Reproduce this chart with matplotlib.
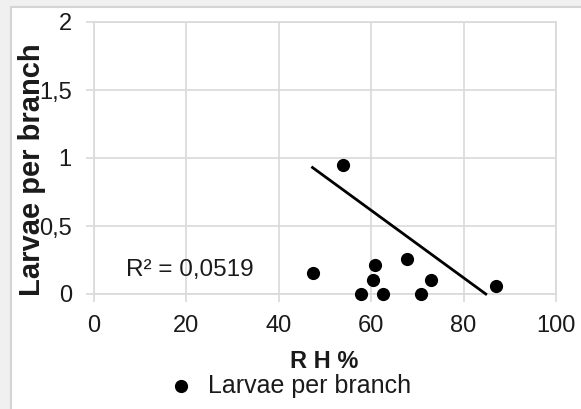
import matplotlib
matplotlib.use("Agg")
import matplotlib.pyplot as plt
from matplotlib.patches import Rectangle
from matplotlib.ticker import FuncFormatter

# relative humidity (%) and larvae per branch
rh = [47.3, 54.0, 57.8, 60.4, 60.9, 62.5, 67.7, 70.8, 72.9, 87.0]
larvae = [0.155, 0.95, 0.0, 0.105, 0.21, 0.0, 0.26, 0.0, 0.105, 0.06]

# trend line as drawn (ends where it meets the x axis)
trend_x = [47.3, 84.8]
trend_y = [0.93, 0.0]

x_ticks = [0, 20, 40, 60, 80, 100]
y_ticks = [0, 0.5, 1, 1.5, 2]
r2_label = "R² = 0,0519"

plt.rcParams["font.family"] = ["Liberation Sans", "DejaVu Sans"]
grid_col = "#d9d9d9"
txt_col = "#1a1a1a"
W, H = 581, 409

fig = plt.figure(figsize=(5.81, 4.09), dpi=100)
fig.patch.set_facecolor("#f0f0f0")
# white chart area with its thin grey frame on the left / top
fig.patches.append(Rectangle((11 / W, -0.1), 1.2, 1 - 7 / H + 0.1,
                             transform=fig.transFigure, facecolor="white",
                             edgecolor="#d4d4d4", linewidth=1.5, zorder=-5))

ax = fig.add_axes([94 / W, 1 - 294 / H, (556 - 94) / W, (294 - 22) / H])
ax.set_facecolor("white")
ax.set_xlim(0, 100)
ax.set_ylim(0, 2)
ax.set_xticks(x_ticks)
ax.set_yticks(y_ticks)
ax.yaxis.set_major_formatter(FuncFormatter(lambda v, p: ("%g" % v).replace(".", ",")))
ax.grid(True, color=grid_col, linewidth=1.2)
ax.set_axisbelow(True)
for s in ax.spines.values():
    s.set_color(grid_col)
    s.set_linewidth(1.2)
ax.tick_params(axis="both", colors=grid_col, labelcolor=txt_col, labelsize=17,
               length=6, width=1.2)
ax.tick_params(axis="y", pad=10)
ax.tick_params(axis="x", pad=9)

ax.plot(trend_x, trend_y, color="black", linewidth=2, zorder=3, clip_on=False)
ax.scatter(rh, larvae, s=72, color="black", zorder=4, clip_on=False,
           label="Larvae per branch")

fig.text(190 / W, 1 - 270 / H, r2_label, fontsize=17.5, ha="center",
         va="center", color=txt_col)

fig.text(32 / W, 1 - 170 / H, "Larvae per branch", rotation=90,
         fontsize=21, fontweight="bold", ha="center", va="center", color=txt_col)
fig.text(324 / W, 1 - 362 / H, "R H %", fontsize=17, fontweight="bold",
         ha="center", va="center", color=txt_col)

fig.legend(loc="center", bbox_to_anchor=(290 / W, 1 - 386 / H), frameon=False,
           fontsize=18, handlelength=1.0, handletextpad=0.6, borderaxespad=0,
           borderpad=0, labelcolor=txt_col)

fig.savefig("out.png", dpi=100, facecolor=fig.get_facecolor())
